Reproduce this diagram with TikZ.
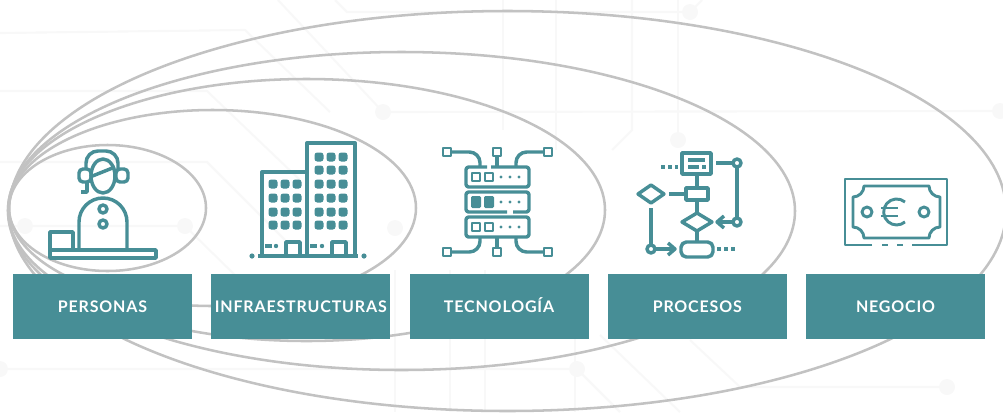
\documentclass[tikz,border=0pt]{standalone}
\usepackage{fontspec}
\setmainfont{Lato}
\newfontfamily\labelfont[LetterSpace=5.2]{Lato Bold}
\usepackage{xcolor}
\definecolor{colorTeal}{HTML}{478E96}
\definecolor{colorOrbit}{HTML}{C2C2C2}
\definecolor{colorCircuit}{HTML}{F8F8F8}
\usetikzlibrary{positioning}
\tikzset{
  orbit/.style={draw=colorOrbit, line width=1.9pt},
  circuit/.style={draw=colorCircuit, line width=1.6pt},
  icon/.style={draw=colorTeal, line width=2.6pt, line join=round},
  iconthin/.style={draw=colorTeal, line width=2.2pt, line join=round},
  dots/.style={draw=colorTeal, line width=2.8pt, dash pattern=on 3pt off 2.4pt},
  box/.style={fill=colorTeal, text=white, minimum width=134.25pt, minimum height=48.75pt, inner sep=0pt, text height=8.8pt, text depth=0pt, font=\labelfont\fontsize{12}{14}\selectfont}
}

\begin{document}
\begin{tikzpicture}[x=0.75pt, y=-0.75pt, node distance=14.05pt]
\useasboundingbox (0,0) rectangle (1003,412);

\draw[circuit] (0,33) -- (245,30) -- (330,112);
\draw[circuit] (0,91) -- (207,91) -- (300,180);
\draw[circuit] (0,162) -- (207,162) -- (285,240);
\draw[circuit] (0,226) -- (185,226) -- (240,280);
\draw[circuit] (278,0) -- (383,112) -- (1000,111);
\draw[circuit] (335,0) -- (347,12) -- (690,12) -- (702,0);
\draw[circuit] (0,369) -- (577,369) -- (620,412);
\draw[circuit] (503,0) -- (503,130);
\draw[circuit] (556,0) -- (556,150);
\draw[circuit] (632,0) -- (632,130) -- (612,150);
\draw[circuit] (678,0) -- (678,140);
\draw[circuit] (395,270) -- (395,412);
\draw[circuit] (450,270) -- (450,412);
\draw[circuit] (485,270) -- (485,412);
\draw[circuit] (575,335) -- (575,412);
\draw[circuit] (600,335) -- (680,412);
\draw[circuit] (690,340) -- (740,387) -- (947,387);
\foreach \px/\py in {0/369, 25/226, 185/226, 383/112, 577/369, 947/387, 395/228, 690/12, 678/140, 1000/111}
  \fill[colorCircuit] (\px,\py) circle (8);

\draw[orbit] (107.5,208) ellipse (98.5 and 63);
\draw[orbit] (212.5,208) ellipse (203.5 and 98);
\draw[orbit] (306.5,210) ellipse (298.5 and 131);
\draw[orbit] (401.5,211) ellipse (393.5 and 159);
\draw[orbit] (507.5,211) ellipse (498.5 and 200);

% persona
\draw[icon] (103,176) ellipse (12 and 17);
\draw[icon, rounded corners=9] (86,170) -- (86,151) -- (118,151) -- (118,170);
\draw[icon, rounded corners=3] (91,169) rectangle (79,182);
\draw[icon, rounded corners=3] (116,169) rectangle (128,182);
\draw[icon] (90,177) -- (115,167);
\draw[icon] (87,181) -- (87,192) -- (81,192);
\draw[icon] (79,250) -- (79,222) arc[start angle=180, end angle=360, radius=24] -- (127,250);
\draw[icon] (103,209) circle (4);
\draw[icon] (103,224) circle (4);
\draw[icon] (50,250) rectangle (73,232);
\draw[icon] (50,250) rectangle (156,258);

% edificios
\draw[icon, line width=3pt] (262,256) -- (262,172) -- (306,172);
\draw[icon, line width=3pt] (307,256) -- (307,143) -- (355,143) -- (355,256);
\draw[icon, line width=3pt] (258,256) -- (358,256);
\fill[colorTeal] (252,256) circle (2.6);
\fill[colorTeal] (364,256) circle (2.6);
\foreach \wx in {273,285,297}
  \foreach \wy in {184,198,212,225}
    \fill[colorTeal, rounded corners=2] (\wx-4.5,\wy-4.5) rectangle (\wx+4.5,\wy+4.5);
\foreach \wx in {319,331,343}
  \foreach \wy in {157,170,184,198,212,225}
    \fill[colorTeal, rounded corners=2] (\wx-4.5,\wy-4.5) rectangle (\wx+4.5,\wy+4.5);
\draw[icon] (286,256) -- (286,242) -- (300,242) -- (300,256);
\draw[icon] (332,256) -- (332,242) -- (346,242) -- (346,256);
\draw[icon] (265,246) -- (272,246);
\fill[colorTeal] (276,246) circle (2.2);
\draw[icon] (310,246) -- (317,246);
\fill[colorTeal] (322,246) circle (2.2);

% servidor
\draw[icon, rounded corners=2] (487,167) -- (466,167) -- (466,187) -- (529,187) -- (529,167) -- (491,167);
\draw[icon, rounded corners=2] (507,212) -- (466,212) -- (466,192) -- (529,192) -- (529,212) -- (513,212);
\draw[icon, rounded corners=2] (466,217) rectangle (529,237);
\foreach \ry in {177,227} {
  \draw[iconthin] (472,\ry-4) rectangle (480,\ry+4);
  \draw[iconthin] (485,\ry-4) rectangle (493,\ry+4);
}
\fill[colorTeal, rounded corners=1] (471,196) rectangle (481,208);
\fill[colorTeal, rounded corners=1] (484,196) rectangle (494,208);
\foreach \ry in {177,202,227}
  \foreach \rx in {501,510,519}
    \fill[colorTeal] (\rx,\ry) circle (1.7);
\foreach \sx in {447,497,548}
  \foreach \sy in {152,252}
    \draw[iconthin] (\sx-4,\sy-4) rectangle (\sx+4,\sy+4);
\draw[icon, rounded corners=8] (452,152) -- (480,152) -- (480,166);
\draw[icon] (497,157) -- (497,167);
\draw[icon, rounded corners=8] (543,152) -- (516,152) -- (516,166);
\draw[icon, rounded corners=8] (452,252) -- (480,252) -- (480,238);
\draw[icon] (497,247) -- (497,238);
\draw[icon, rounded corners=8] (543,252) -- (516,252) -- (516,238);

% procesos
\draw[icon] (682,153) rectangle (711,174);
\draw[icon] (688,160) -- (705,160);
\draw[icon] (688,167) -- (699,167);
\draw[icon] (702,167) -- (706,167);
\draw[dots] (661,167) -- (678,167);
\draw[icon] (716,163) -- (733,163);
\draw[icon] (737,163) circle (4);
\draw[icon] (737,167) -- (737,218);
\draw[icon] (737,222) circle (4);
\draw[icon] (733,222) -- (717,222);
\draw[icon] (724,216) -- (717,222) -- (724,228);
\draw[icon] (697,174) -- (697,188);
\draw[icon] (686,188) rectangle (708,200);
\draw[icon] (669,194) -- (686,194);
\draw[icon] (638,194) -- (651,185) -- (664,194) -- (651,203) -- cycle;
\draw[icon] (651,208) -- (651,245);
\draw[icon] (651,249) circle (4);
\draw[icon] (655,249) -- (675,249);
\draw[icon] (668,243) -- (675,249) -- (668,255);
\draw[icon] (697,200) -- (697,213);
\draw[icon] (682,222) -- (697,213) -- (712,222) -- (697,231) -- cycle;
\draw[icon] (697,231) -- (697,242);
\draw[icon, rounded corners=4] (681,242) rectangle (713,257);
\draw[dots] (717,249) -- (736,249);

% billete
\draw[iconthin] (872,245) -- (845,245) -- (845,179) -- (947,179) -- (947,245) -- (912,245);
\draw[iconthin] (882,245) -- (888,245);
\draw[iconthin] (897,245) -- (903,245);
\draw[iconthin] (864,186) -- (929,186) .. controls (929,192) and (934,197) .. (940,197) -- (940,227) .. controls (934,227) and (929,232) .. (929,238) -- (864,238) .. controls (864,232) and (859,227) .. (853,227) -- (853,197) .. controls (859,197) and (864,192) .. (864,186) -- cycle;
\draw[iconthin] (867,212) circle (5);
\draw[iconthin] (924,212) circle (5);
\draw[iconthin] (905,202) arc[start angle=310, end angle=50, radius=13];
\draw[iconthin] (881,208) -- (898,208);
\draw[iconthin] (881,216) -- (898,216);

\node[box] (personas) at (102.5,306.5) {PERSONAS};
\node[box, right=of personas] (infraestructuras) {INFRAESTRUCTURAS};
\node[box, right=of infraestructuras] (tecnologia) {TECNOLOGÍA};
\node[box, right=of tecnologia] (procesos) {PROCESOS};
\node[box, right=of procesos] (negocio) {NEGOCIO};
\end{tikzpicture}
\end{document}
